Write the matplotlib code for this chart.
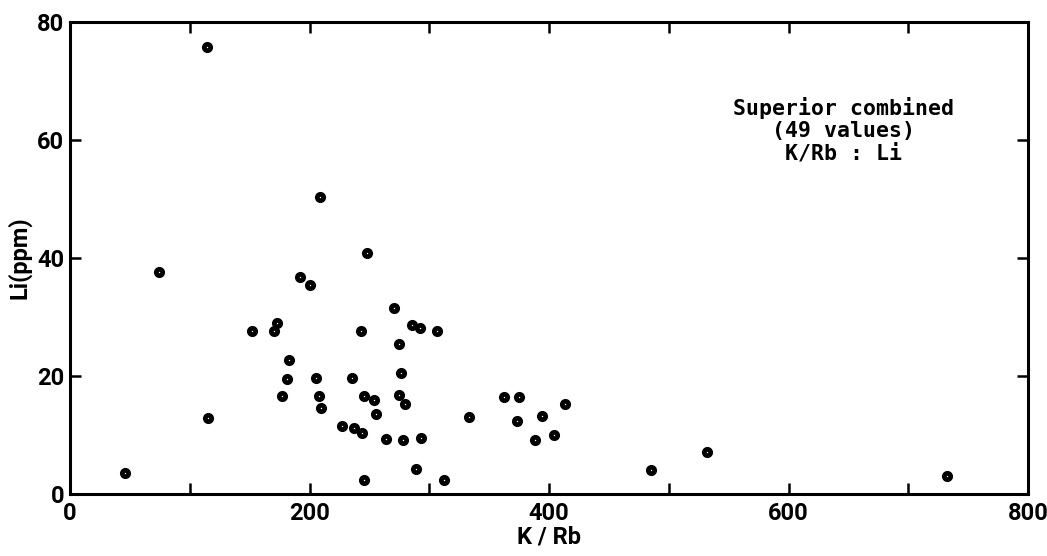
import matplotlib.pyplot as plt
from matplotlib.ticker import MultipleLocator

# K/Rb vs Li, Superior combined
k_rb = [114.3, 208.5, 74.4, 248.3, 191.8, 200.7, 270.8, 172.9, 151.8, 170.7,
        242.7, 285.8, 292.5, 306.7, 274.4, 183.2, 181.2, 205.2, 235.8, 276.1,
        176.6, 207.9, 209.6, 245.5, 253.5, 255.8, 274.9, 279.7, 115.1, 227.4,
        236.9, 244.1, 264.1, 278.0, 293.0, 288.6, 245.5, 311.9, 45.9, 333.3,
        362.2, 374.5, 372.8, 394.2, 413.1, 388.1, 404.5, 485.4, 531.6, 732.5]
li = [75.8, 50.3, 37.7, 40.8, 36.8, 35.5, 31.6, 29.0, 27.7, 27.7,
      27.7, 28.6, 28.1, 27.7, 25.5, 22.8, 19.5, 19.7, 19.7, 20.5,
      16.7, 16.7, 14.6, 16.7, 16.0, 13.6, 16.8, 15.3, 12.9, 11.5,
      11.2, 10.3, 9.3, 9.2, 9.5, 4.3, 2.3, 2.4, 3.5, 13.1,
      16.4, 16.4, 12.4, 13.3, 15.2, 9.2, 10.0, 4.1, 7.1, 3.1]
x_ticks = [0, 200, 400, 600, 800]
y_ticks = [0, 20, 40, 60, 80]
note = "Superior combined\n(49 values)\nK/Rb : Li"

fig = plt.figure(figsize=(10.47, 5.56), dpi=100)
ax = fig.add_axes([0.0669, 0.1115, 0.9151, 0.8485])

ax.plot(k_rb, li, 'o', color='black', markersize=7, linestyle='none')
ax.plot(k_rb, li, 'o', color='white', markersize=1.0, markeredgewidth=0,
        linestyle='none')

ax.set_xlim(0, 800)
ax.set_ylim(0, 80)
ax.set_xticks(x_ticks)
ax.xaxis.set_minor_locator(MultipleLocator(100))
ax.set_yticks(y_ticks)

tick_font = {'family': ['Roboto', 'DejaVu Sans'], 'weight': 'bold', 'size': 17}
ax.set_xticklabels([str(t) for t in x_ticks], fontdict=tick_font)
ax.set_yticklabels([str(t) for t in y_ticks], fontdict=tick_font)
ax.tick_params(which='both', direction='in', top=True, right=True, width=1.8)
ax.tick_params(which='major', length=8)
ax.tick_params(which='minor', length=8)
ax.tick_params(axis='x', pad=6)
ax.tick_params(axis='y', pad=4)

for s in ax.spines.values():
    s.set_linewidth(2.2)

lab_font = {'family': ['Roboto', 'DejaVu Sans'], 'weight': 'bold', 'size': 17}
ax.set_xlabel("K / Rb", fontdict=lab_font, labelpad=0)
ax.set_ylabel("Li(ppm)", fontdict=lab_font, labelpad=4)

ax.text(646, 61.7, note, ha='center', va='center', family='DejaVu Sans Mono',
        fontweight='bold', fontsize=15.5, linespacing=1.15)

fig.savefig("out.png", dpi=100)
